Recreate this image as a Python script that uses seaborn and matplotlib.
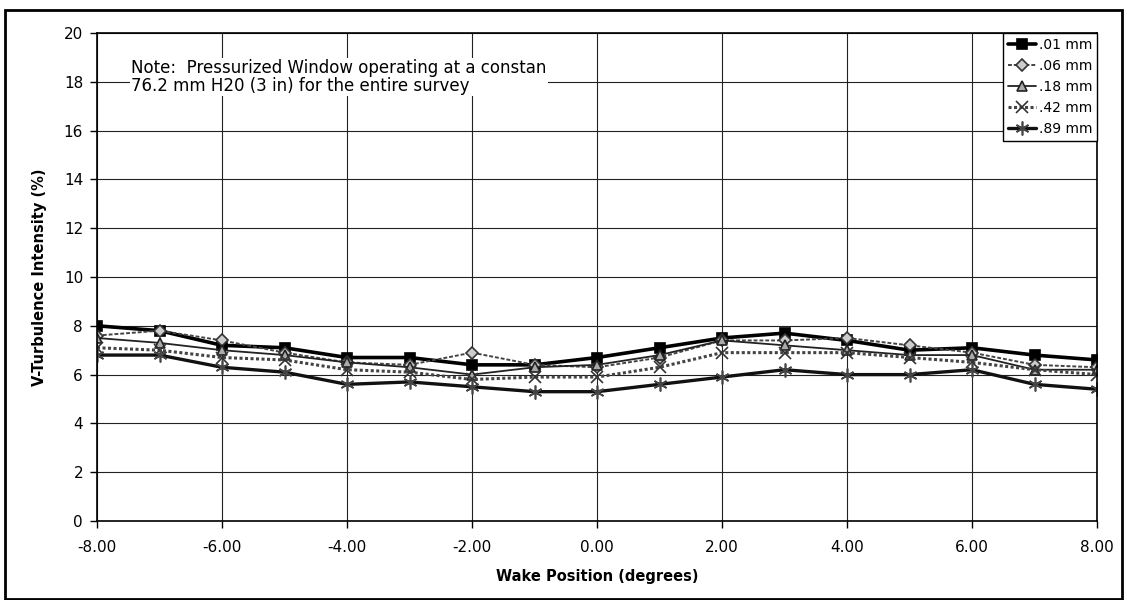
import numpy as np
import pandas as pd
import matplotlib.pyplot as plt
import seaborn as sns
from matplotlib.patches import Rectangle
from matplotlib.ticker import FormatStrFormatter

# Posicoes da esteira (graus)
posicao = [-8, -7, -6, -5, -4, -3, -2, -1, 0, 1, 2, 3, 4, 5, 6, 7, 8]

# Intensidade de turbulencia V (%) para cada rugosidade
s_01 = [8.0, 7.8, 7.2, 7.1, 6.7, 6.7, 6.4, 6.4, 6.7, 7.1, 7.5, 7.7, 7.4, 7.0, 7.1, 6.8, 6.6]
s_06 = [7.6, 7.8, 7.4, 6.9, 6.5, 6.4, 6.9, 6.4, 6.3, 6.7, 7.4, 7.4, 7.5, 7.2, 6.9, 6.4, 6.3]
s_18 = [7.5, 7.3, 7.0, 6.8, 6.5, 6.3, 6.0, 6.3, 6.4, 6.8, 7.4, 7.2, 7.0, 6.8, 6.8, 6.2, 6.2]
s_42 = [7.1, 7.0, 6.7, 6.6, 6.2, 6.1, 5.8, 5.9, 5.9, 6.3, 6.9, 6.9, 6.9, 6.7, 6.5, 6.2, 6.0]
s_89 = [6.8, 6.8, 6.3, 6.1, 5.6, 5.7, 5.5, 5.3, 5.3, 5.6, 5.9, 6.2, 6.0, 6.0, 6.2, 5.6, 5.4]

series_names = ['.01 mm', '.06 mm', '.18 mm', '.42 mm', '.89 mm']
series_vals = [s_01, s_06, s_18, s_42, s_89]

# Monta tabela longa para o seaborn
df = pd.DataFrame({
    'Posicao': posicao * len(series_names),
    'Turb': sum(series_vals, []),
    'Serie': np.repeat(series_names, len(posicao)),
})

sns.set_style('white')
plt.rcParams['font.family'] = ['DejaVu Sans']
plt.rcParams['text.color'] = 'black'
plt.rcParams['axes.labelcolor'] = 'black'

fig = plt.figure(figsize=(11.27, 6), dpi=100)
ax = fig.add_axes([97 / 1127, 1 - 521 / 600, 1000 / 1127, 488 / 600])

estilos = {
    '.01 mm': dict(marker='s', color='#000000', ls='-', lw=2.6, ms=7, mfc='#000000', mec='#000000'),
    '.06 mm': dict(marker='D', color='#444444', ls=(0, (2, 1)), lw=1.4, ms=6, mfc='#cccccc', mec='#333333'),
    '.18 mm': dict(marker='^', color='#222222', ls='-', lw=1.3, ms=7, mfc='#aaaaaa', mec='#222222'),
    '.42 mm': dict(marker='x', color='#444444', ls=(0, (1, 0.8)), lw=2.2, ms=8, mfc='none', mec='#333333'),
    '.89 mm': dict(marker=(6, 2, 0), color='#111111', ls='-', lw=2.4, ms=10, mfc='none', mec='#444444'),
}

for nome in series_names:
    sub = df[df['Serie'] == nome]
    st = estilos[nome]
    sns.lineplot(data=sub, x='Posicao', y='Turb', ax=ax, label=nome,
                 marker=st['marker'], color=st['color'], linestyle=st['ls'],
                 linewidth=st['lw'], markersize=st['ms'],
                 markerfacecolor=st['mfc'], markeredgecolor=st['mec'],
                 markeredgewidth=1.2)

ax.set_xlim(-8, 8)
ax.set_ylim(0, 20)
ax.set_xticks(np.arange(-8, 9, 2))
ax.set_yticks(np.arange(0, 21, 2))
ax.xaxis.set_major_formatter(FormatStrFormatter('%.2f'))
ax.grid(True, color='#222222', linewidth=0.8)
ax.set_axisbelow(True)
for sp in ax.spines.values():
    sp.set_color('black')
    sp.set_linewidth(1.2)
ax.tick_params(axis='both', direction='out', length=5, width=1, colors='black',
               labelsize=11, pad=5, left=True, bottom=True)
ax.tick_params(axis='x', pad=9)

ax.set_xlabel('Wake Position (degrees)', fontsize=10.5, fontweight='bold', labelpad=10)
ax.set_ylabel('V-Turbulence Intensity (%)', fontsize=10.5, fontweight='bold', labelpad=12)

# Nota sobre a janela pressurizada
ax.text(-7.45, 18.2, 'Note:  Pressurized Window operating at a constan\n76.2 mm H20 (3 in) for the entire survey',
        fontsize=12, va='center', ha='left', linespacing=1.0,
        bbox=dict(facecolor='white', edgecolor='none', pad=1))

leg = ax.legend(loc='upper right', borderaxespad=0, fontsize=10, handlelength=2.0,
                handletextpad=0.2, labelspacing=0.5, borderpad=0.35,
                frameon=True, fancybox=False, edgecolor='black', framealpha=1)
leg.get_frame().set_linewidth(1)

# Moldura externa do grafico
fig.patches.append(Rectangle((5 / 1127, 1 / 600), 1117 / 1127, 589 / 600,
                             transform=fig.transFigure, fill=False,
                             edgecolor='black', linewidth=2))

plt.savefig('out.png', dpi=100)
